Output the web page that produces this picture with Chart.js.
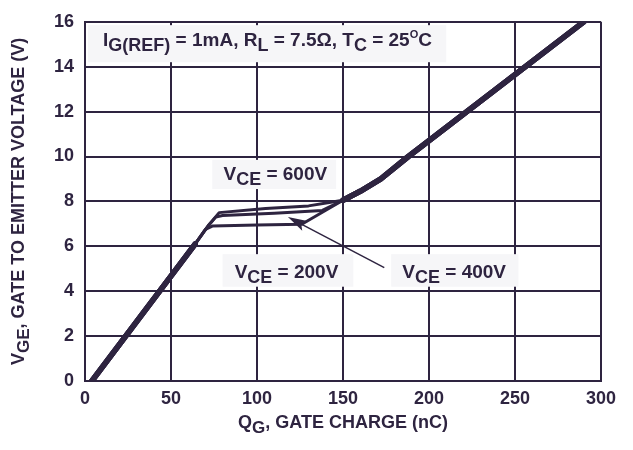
<!DOCTYPE html>
<html>
<head>
<meta charset="utf-8">
<script src="https://cdn.jsdelivr.net/npm/chart.js@4/dist/chart.umd.min.js"></script>
<style>
  html, body { margin: 0; padding: 0; background: #ffffff; }
  #wrap { width: 633px; height: 450px; position: relative; }
</style>
</head>
<body>
<div id="wrap"><canvas id="gateChart"></canvas></div>
<script>
// --- DATA ---
// Q_G in nC, V_GE in V
const qg600 = [4, 64, 72, 78, 105, 130, 142, 150, 160, 172, 188, 290];
const vge600 = [0, 6.1, 6.95, 7.5, 7.68, 7.8, 7.95, 8.05, 8.45, 9.0, 10.0, 16];
const qg400 = [4, 64, 72, 76, 80, 110, 138, 150, 160, 172, 188, 290];
const vge400 = [0, 6.1, 6.95, 7.3, 7.37, 7.47, 7.6, 8.05, 8.45, 9.0, 10.0, 16];
const qg200 = [4, 64, 70, 74, 100, 126, 150, 160, 172, 188, 290];
const vge200 = [0, 6.1, 6.75, 6.9, 6.95, 6.98, 8.05, 8.45, 9.0, 10.0, 16];
const xTicks = [0, 50, 100, 150, 200, 250, 300];
const yTicks = [0, 2, 4, 6, 8, 10, 12, 14, 16];

// --- STYLE ---
const ink = '#2e2440';
const boxFill = '#f6f6f8';
const fontFam = '"Liberation Sans", Arial, sans-serif';

function toPoints(xs, ys) {
    return xs.map((x, i) => ({ x: x, y: ys[i] }));
}

// thick where the three curves lie on top of each other
function segWidth(ctx) {
    const a = ctx.p0.parsed.x, b = ctx.p1.parsed.x;
    return (b <= 64 || a >= 150) ? 5.5 : 3;
}

// draws text made of normal / sub / sup pieces, returns width
function richText(ctx, parts, x, y, big, measureOnly) {
    let w = 0;
    const base = big || 18;
    parts.forEach(p => {
        const kind = p[1] || 'n';
        const size = kind === 'sub' ? base - 1 : (kind === 'sup' ? 11 : base);
        const dy = kind === 'sub' ? 5 : (kind === 'sup' ? -8 : 0);
        ctx.font = 'bold ' + size + 'px ' + fontFam;
        if (!measureOnly) ctx.fillText(p[0], x + w, y + dy);
        w += ctx.measureText(p[0]).width;
    });
    return w;
}

const paramText = [['I'], ['G(REF)', 'sub'], [' = 1mA, R'], ['L', 'sub'], [' = 7.5\u03A9, T'], ['C', 'sub'], [' = 25'], ['O', 'sup'], ['C']];
const lbl600 = [['V'], ['CE', 'sub'], [' = 600V']];
const lbl200 = [['V'], ['CE', 'sub'], [' = 200V']];
const lbl400 = [['V'], ['CE', 'sub'], [' = 400V']];

// annotations in data units: text start / baseline, box corners
const notes = [
    { parts: paramText, q: 10.5, v: 14.92, box: [1.8, 15.85, 210, 14.2] },
    { parts: lbl600, q: 80.5, v: 8.96, box: [74, 9.85, 146, 8.55] },
    { parts: lbl200, q: 87, v: 4.6, box: [80, 5.65, 156, 4.2] },
    { parts: lbl400, q: 184.5, v: 4.6, box: [178, 5.65, 252, 4.2] }
];
const arrowTail = [174, 5.05];
const arrowTip = [118, 7.3];

const decorPlugin = {
    id: 'decor',
    beforeDatasetsDraw(chart) {
        const { ctx, scales: { x, y } } = chart;
        ctx.save();
        notes.forEach(n => {
            const x0 = x.getPixelForValue(n.box[0]), y0 = y.getPixelForValue(n.box[1]);
            const x1 = x.getPixelForValue(n.box[2]), y1 = y.getPixelForValue(n.box[3]);
            ctx.fillStyle = boxFill;
            ctx.fillRect(x0, y0, x1 - x0, y1 - y0);
            ctx.fillStyle = ink;
            ctx.textBaseline = 'alphabetic';
            ctx.textAlign = 'left';
            richText(ctx, n.parts, x.getPixelForValue(n.q), y.getPixelForValue(n.v), 19);
        });
        ctx.restore();
    },
    afterDatasetsDraw(chart) {
        const { ctx, scales: { x, y } } = chart;
        const tx = x.getPixelForValue(arrowTail[0]), ty = y.getPixelForValue(arrowTail[1]);
        const hx = x.getPixelForValue(arrowTip[0]), hy = y.getPixelForValue(arrowTip[1]);
        const ang = Math.atan2(hy - ty, hx - tx);
        ctx.save();
        ctx.strokeStyle = ink;
        ctx.fillStyle = ink;
        ctx.lineWidth = 1.5;
        ctx.beginPath();
        ctx.moveTo(tx, ty);
        ctx.lineTo(hx - 14 * Math.cos(ang), hy - 14 * Math.sin(ang));
        ctx.stroke();
        ctx.beginPath();
        ctx.moveTo(hx, hy);
        ctx.lineTo(hx - 19 * Math.cos(ang) + 5.5 * Math.sin(ang), hy - 19 * Math.sin(ang) - 5.5 * Math.cos(ang));
        ctx.lineTo(hx - 15 * Math.cos(ang), hy - 15 * Math.sin(ang));
        ctx.lineTo(hx - 19 * Math.cos(ang) - 5.5 * Math.sin(ang), hy - 19 * Math.sin(ang) + 5.5 * Math.cos(ang));
        ctx.closePath();
        ctx.fill();

        // axis titles with subscripts
        const area = chart.chartArea;
        ctx.textBaseline = 'alphabetic';
        ctx.textAlign = 'left';
        const xt = [['Q'], ['G', 'sub'], [', GATE CHARGE (nC)']];
        const wx = richText(ctx, xt, 0, 0, 18, true);
        richText(ctx, xt, (area.left + area.right) / 2 - wx / 2, 428, 18);

        const yt = [['V'], ['GE', 'sub'], [', GATE TO EMITTER VOLTAGE (V)']];
        const wy = richText(ctx, yt, 0, 0, 18, true);
        ctx.translate(24, (area.top + area.bottom) / 2);
        ctx.rotate(-Math.PI / 2);
        richText(ctx, yt, -wy / 2, 0, 18);
        ctx.restore();
    }
};

const lineStyle = {
    borderColor: ink,
    borderWidth: 3,
    pointRadius: 0,
    tension: 0,
    fill: false,
    borderJoinStyle: 'round',
    borderCapStyle: 'round',
    segment: { borderWidth: segWidth }
};

new Chart(document.getElementById('gateChart'), {
    type: 'line',
    data: {
        datasets: [
            Object.assign({ label: 'VCE = 600V', data: toPoints(qg600, vge600) }, lineStyle),
            Object.assign({ label: 'VCE = 400V', data: toPoints(qg400, vge400) }, lineStyle),
            Object.assign({ label: 'VCE = 200V', data: toPoints(qg200, vge200) }, lineStyle)
        ]
    },
    options: {
        responsive: true,
        maintainAspectRatio: false,
        animation: false,
        layout: { padding: { top: 16, right: 32, left: 0, bottom: 0 } },
        plugins: { legend: { display: false }, tooltip: { enabled: false } },
        scales: {
            x: {
                type: 'linear',
                min: 0, max: 300,
                afterBuildTicks: s => { s.ticks = xTicks.map(v => ({ value: v })); },
                afterFit: s => { s.height = 69; },
                grid: { color: ink, lineWidth: 2, drawTicks: false },
                border: { color: ink, width: 2 },
                ticks: { color: ink, font: { family: fontFam, size: 18, weight: 'bold' }, padding: 7, maxRotation: 0 }
            },
            y: {
                type: 'linear',
                min: 0, max: 16,
                afterBuildTicks: s => { s.ticks = yTicks.map(v => ({ value: v })); },
                afterFit: s => { s.width = 85; },
                grid: { color: ink, lineWidth: 2, drawTicks: false },
                border: { color: ink, width: 2 },
                ticks: { color: ink, font: { family: fontFam, size: 18, weight: 'bold' }, padding: 11 }
            }
        }
    },
    plugins: [decorPlugin]
});
</script>
</body>
</html>
